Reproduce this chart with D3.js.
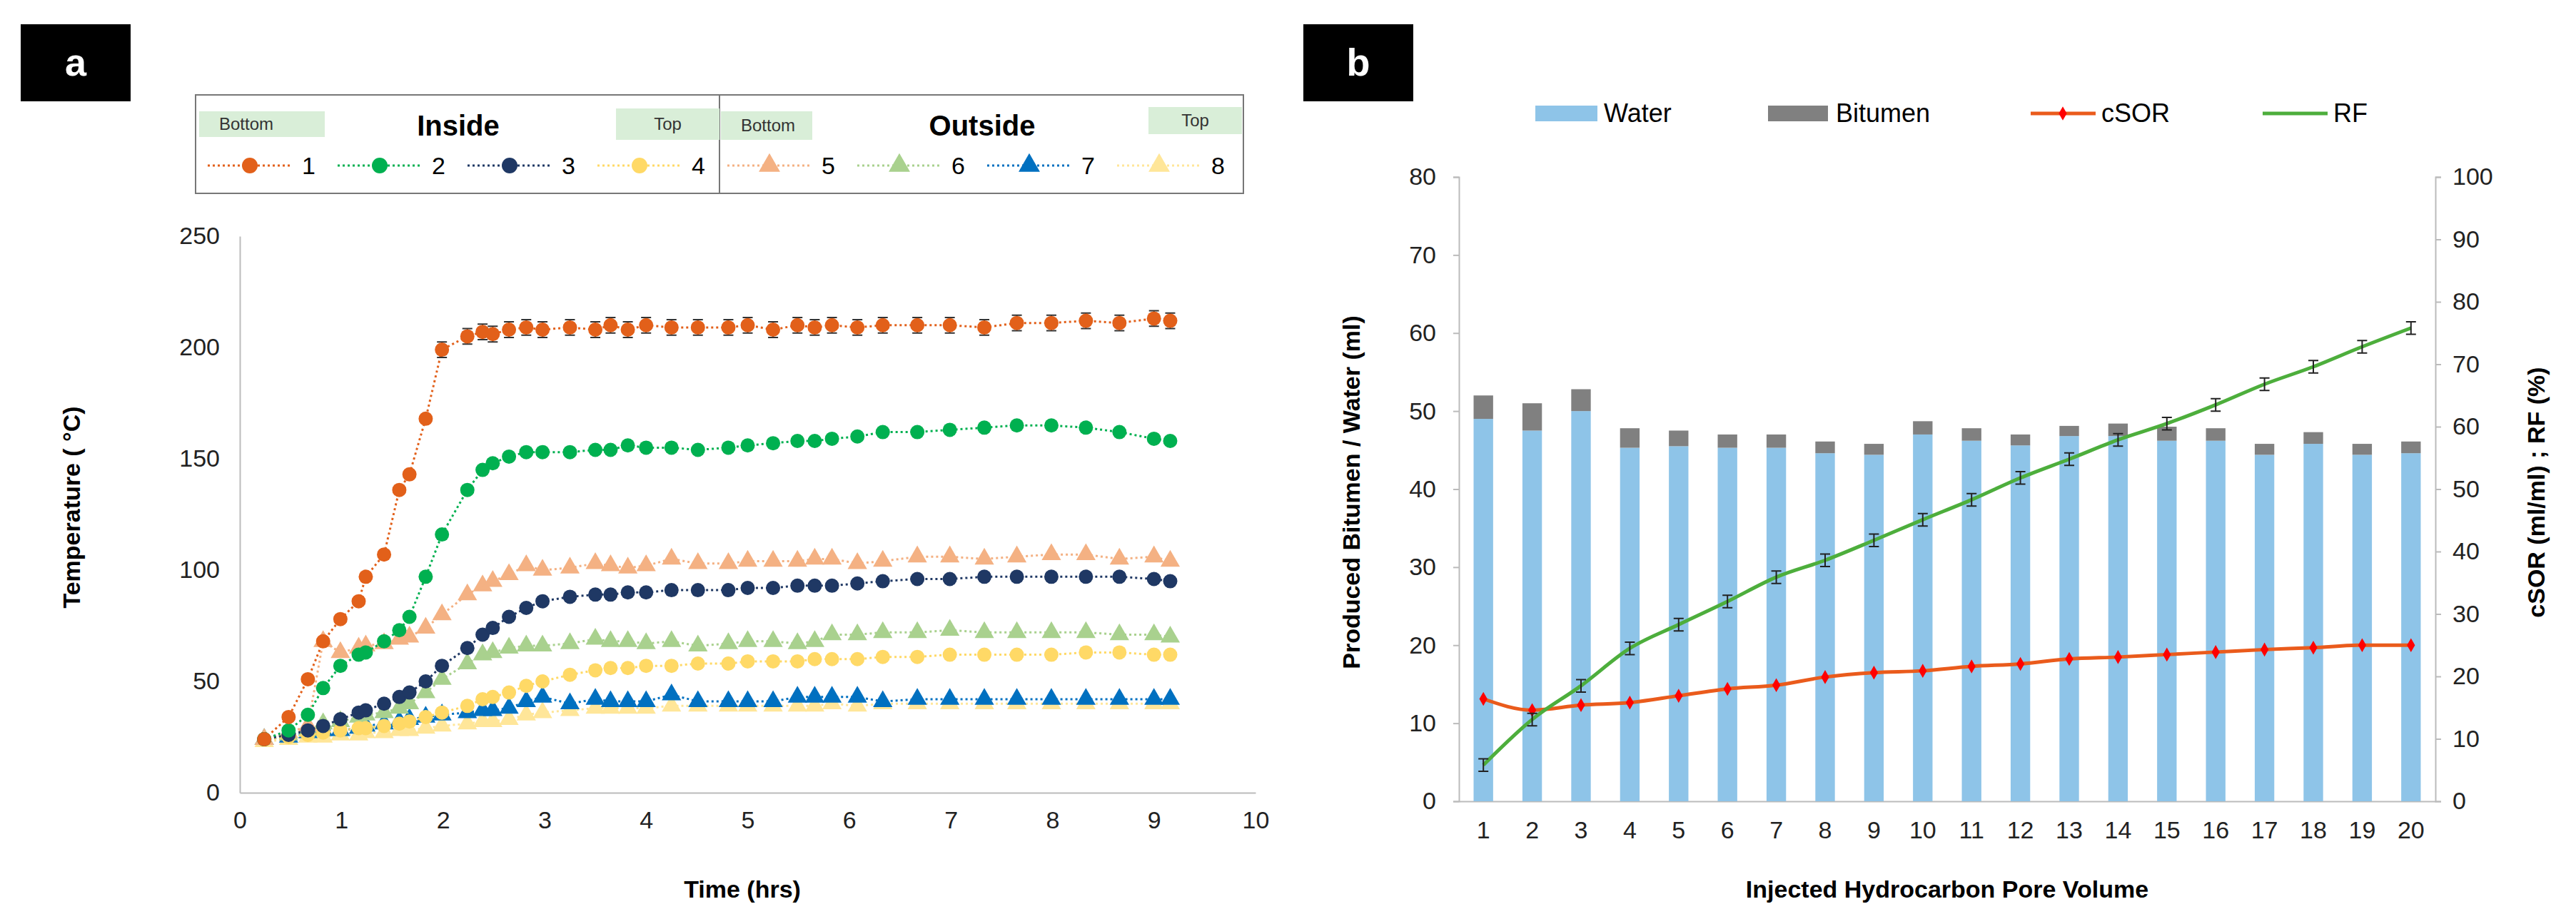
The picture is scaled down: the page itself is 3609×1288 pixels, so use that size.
<!DOCTYPE html>
<html><head><meta charset="utf-8">
<script src="https://cdn.jsdelivr.net/npm/d3@7"></script>
<style>body{margin:0;background:#fff}text{font-family:"Liberation Sans",Arial,sans-serif}</style>
</head><body><svg id="c" width="3609" height="1288"></svg>
<script>
// ---- panel a data ----
var times = [0.24,0.48,0.67,0.82,0.99,1.17,1.24,1.42,1.57,1.67,1.83,1.99,2.24,2.39,2.49,2.65,2.82,2.98,3.25,3.5,3.65,3.82,4.0,4.25,4.51,4.81,5.0,5.25,5.49,5.66,5.83,6.08,6.33,6.67,6.99,7.33,7.65,7.99,8.33,8.66,9.0,9.16];
var s1 = [24,34,51,68,78,86,97,107,136,143,168,199,205,207,206,208,209,208,209,208,210,208,210,209,209,209,210,208,210,209,210,209,210,210,210,209,211,211,212,211,213,212];
var s2 = [24,28,35,47,57,62,63,68,73,79,97,116,136,145,148,151,153,153,153,154,154,156,155,155,154,155,156,157,158,158,159,160,162,162,163,164,165,165,164,162,159,158];
var s3 = [24,26,28,30,33,36,37,40,43,45,50,57,65,71,74,79,83,86,88,89,89,90,90,91,91,91,92,92,93,93,93,94,95,96,96,97,97,97,97,97,96,95];
var s4 = [24,25,26,27,28,29,29,30,31,32,34,36,39,42,43,45,48,50,53,55,56,56,57,57,58,58,59,59,59,60,60,60,61,61,62,62,62,62,63,63,62,62];
var s5 = [24,27,30,68,63,65,66,67,69,70,74,80,89,93,95,98,102,100,101,103,102,101,102,105,103,103,104,104,104,105,105,103,104,106,106,105,106,107,107,105,106,104];
var s6 = [24,26,28,31,32,34,35,36,38,40,45,51,58,62,63,65,66,66,67,69,68,68,67,68,66,67,68,68,67,68,71,71,72,72,73,72,72,72,72,71,71,70];
var s7 = [24,25,27,28,28,29,30,31,32,33,34,35,36,37,37,38,41,43,40,42,41,41,41,44,41,41,41,41,43,43,43,43,41,42,42,42,42,42,42,42,42,42];
var s8 = [23,24,25,25,26,26,27,27,28,28,29,30,31,32,32,33,35,36,37,38,38,38,38,39,39,39,39,39,39,39,40,39,40,40,40,40,40,40,40,40,40,40];
var seriesNames = ['1','2','3','4','5','6','7','8'];
var seriesColors = ['#E2601A','#00B050','#1F3864','#FFD966','#F4B183','#A9D18E','#0070C0','#FFE699'];
var seriesShapes = ['circle','circle','circle','circle','tri','tri','tri','tri'];
var allSeries = [s1,s2,s3,s4,s5,s6,s7,s8];
var xTicksA = [0,1,2,3,4,5,6,7,8,9,10];
var yTicksA = [0,50,100,150,200,250];

// ---- panel b data ----
var pv = d3.range(1,21).map(String);
var water = [49,47.5,50,45.3,45.5,45.3,45.3,44.6,44.4,47,46.2,45.6,46.8,46.8,46.2,46.2,44.4,45.8,44.4,44.6];
var total = [52,51,52.8,47.8,47.5,47,47,46.1,45.8,48.7,47.8,47,48.1,48.4,48,47.8,45.8,47.3,45.8,46.1];
var csor = [16.4,14.6,15.4,15.8,16.9,18,18.6,19.9,20.6,20.9,21.6,22,22.8,23.1,23.5,23.9,24.3,24.6,25,25];
var rf = [5.8,13.1,18.5,24.5,28.3,32,35.9,38.6,41.8,45.1,48.3,51.8,54.8,57.9,60.5,63.5,66.8,69.6,72.8,75.8];
var yTicksL = [0,10,20,30,40,50,60,70,80];
var yTicksR = [0,10,20,30,40,50,60,70,80,90,100];

var svg = d3.select('#c');

function label(g, x, y, txt) {
  g.append('rect').attr('x', x).attr('y', y).attr('width', 154).attr('height', 108).attr('fill', '#000');
  g.append('text').attr('x', x + 77).attr('y', y + 72).attr('text-anchor', 'middle')
    .attr('fill', '#fff').attr('font-size', 54).attr('font-weight', 'bold').text(txt);
}

function marker(g, shape, x, y, r, color) {
  if (shape === 'circle') {
    g.append('circle').attr('cx', x).attr('cy', y).attr('r', r).attr('fill', color);
  } else {
    g.append('path').attr('transform', 'translate(' + x + ',' + y + ')')
      .attr('d', d3.symbol(d3.symbolTriangle, r * r * 3.2)()).attr('fill', color);
  }
}

// ================= panel a =================
var ga = svg.append('g');
label(ga, 29, 34, 'a');
var xA = d3.scaleLinear().domain([0, 10]).range([336, 1759]);
var yA = d3.scaleLinear().domain([0, 250]).range([1111, 331]);

ga.append('g').attr('transform', 'translate(0,1111)')
  .call(d3.axisBottom(xA).tickValues(xTicksA).tickSize(0).tickPadding(26))
  .call(function(g) { g.select('.domain').attr('stroke', '#bbb').attr('stroke-width', 2); g.selectAll('text').attr('font-size', 34).attr('fill', '#222'); });
ga.append('g').attr('transform', 'translate(336,0)')
  .call(d3.axisLeft(yA).tickValues(yTicksA).tickSize(0).tickPadding(28))
  .call(function(g) { g.select('.domain').attr('stroke', '#bbb').attr('stroke-width', 2); g.selectAll('text').attr('font-size', 34).attr('fill', '#222'); });

ga.append('text').attr('transform', 'translate(112,711) rotate(-90)').attr('text-anchor', 'middle')
  .attr('font-size', 34).attr('font-weight', 'bold').text('Temperature ( °C)');
ga.append('text').attr('x', 1040).attr('y', 1258).attr('text-anchor', 'middle')
  .attr('font-size', 34).attr('font-weight', 'bold').text('Time (hrs)');

var lineA = d3.line().x(function(d, i) { return xA(times[i]); }).y(function(d) { return yA(d); });
// draw back to front
[7,6,5,4,3,2,1,0].forEach(function(k) {
  var data = allSeries[k];
  ga.append('path').datum(data).attr('d', lineA).attr('fill', 'none')
    .attr('stroke', seriesColors[k]).attr('stroke-width', 3).attr('stroke-dasharray', '3,4');
  data.forEach(function(v, i) {
    if (k === 0 && i > 10) {
      ga.append('path').attr('d', 'M' + (xA(times[i]) - 7) + ',' + yA(v + 3.5) + 'h14M' + xA(times[i]) + ',' + yA(v + 3.5) + 'V' + yA(v - 3.5) + 'M' + (xA(times[i]) - 7) + ',' + yA(v - 3.5) + 'h14')
        .attr('stroke', '#333').attr('stroke-width', 2).attr('fill', 'none');
    }
    marker(ga, seriesShapes[k], xA(times[i]), yA(v), 10, seriesColors[k]);
  });
});

// legend a
var lg = ga.append('g');
lg.append('rect').attr('x', 274).attr('y', 133).attr('width', 1468).attr('height', 138).attr('fill', '#fff').attr('stroke', '#777').attr('stroke-width', 2);
lg.append('line').attr('x1', 1008).attr('x2', 1008).attr('y1', 133).attr('y2', 271).attr('stroke', '#777').attr('stroke-width', 2);
[[279,156,176,36,'Bottom'],[863,152,145,44,'Top'],[1010,156,128,40,'Bottom'],[1609,150,131,38,'Top']].forEach(function(b) {
  lg.append('rect').attr('x', b[0]).attr('y', b[1]).attr('width', b[2]).attr('height', b[3]).attr('fill', '#D9EED8');
  lg.append('text').attr('x', b[4] === 'Top' ? b[0] + b[2] / 2 : b[0] + 28).attr('y', b[1] + b[3] / 2 + 8)
    .attr('text-anchor', b[4] === 'Top' ? 'middle' : 'start').attr('font-size', 24).attr('fill', '#333').text(b[4]);
});
lg.append('text').attr('x', 642).attr('y', 190).attr('text-anchor', 'middle').attr('font-size', 40).attr('font-weight', 'bold').text('Inside');
lg.append('text').attr('x', 1376).attr('y', 190).attr('text-anchor', 'middle').attr('font-size', 40).attr('font-weight', 'bold').text('Outside');
seriesNames.forEach(function(n, k) {
  var x0 = (k < 4 ? 291 : 1019) + (k % 4) * 182;
  lg.append('line').attr('x1', x0).attr('x2', x0 + 118).attr('y1', 232).attr('y2', 232)
    .attr('stroke', seriesColors[k]).attr('stroke-width', 3).attr('stroke-dasharray', '3,4');
  marker(lg, seriesShapes[k], x0 + 59, 232, 11, seriesColors[k]);
  lg.append('text').attr('x', x0 + 132).attr('y', 244).attr('font-size', 34).text(n);
});

// ================= panel b =================
var gb = svg.append('g');
label(gb, 1826, 34, 'b');
var xB = d3.scaleBand().domain(pv).range([2044, 3412]).paddingInner(0.6).paddingOuter(0.3);
var yL = d3.scaleLinear().domain([0, 80]).range([1123, 248]);
var yR = d3.scaleLinear().domain([0, 100]).range([1123, 248]);

gb.append('g').attr('transform', 'translate(0,1123)')
  .call(d3.axisBottom(xB).tickSize(0).tickPadding(28))
  .call(function(g) { g.select('.domain').attr('stroke', '#bbb').attr('stroke-width', 2); g.selectAll('text').attr('font-size', 34).attr('fill', '#222'); });
gb.append('g').attr('transform', 'translate(2044,0)')
  .call(d3.axisLeft(yL).tickValues(yTicksL).tickSize(8).tickPadding(24))
  .call(function(g) { g.selectAll('.domain,line').attr('stroke', '#bbb').attr('stroke-width', 2); g.selectAll('text').attr('font-size', 34).attr('fill', '#222'); });
gb.append('g').attr('transform', 'translate(3412,0)')
  .call(d3.axisRight(yR).tickValues(yTicksR).tickSize(8).tickPadding(16))
  .call(function(g) { g.selectAll('.domain,line').attr('stroke', '#bbb').attr('stroke-width', 2); g.selectAll('text').attr('font-size', 34).attr('fill', '#222'); });

gb.append('text').attr('transform', 'translate(1905,690) rotate(-90)').attr('text-anchor', 'middle')
  .attr('font-size', 34).attr('font-weight', 'bold').text('Produced Bitumen / Water  (ml)');
gb.append('text').attr('transform', 'translate(3565,690) rotate(-90)').attr('text-anchor', 'middle')
  .attr('font-size', 34).attr('font-weight', 'bold').text('cSOR  (ml/ml) ;  RF  (%)');
gb.append('text').attr('x', 2728).attr('y', 1258).attr('text-anchor', 'middle')
  .attr('font-size', 34).attr('font-weight', 'bold').text('Injected  Hydrocarbon  Pore Volume');

gb.selectAll('.w').data(water).enter().append('rect')
  .attr('x', function(d, i) { return xB(pv[i]); }).attr('width', xB.bandwidth())
  .attr('y', function(d) { return yL(d); }).attr('height', function(d) { return yL(0) - yL(d); })
  .attr('fill', '#8EC4E8');
gb.selectAll('.bt').data(total).enter().append('rect')
  .attr('x', function(d, i) { return xB(pv[i]); }).attr('width', xB.bandwidth())
  .attr('y', function(d) { return yL(d); }).attr('height', function(d, i) { return yL(water[i]) - yL(d); })
  .attr('fill', '#808080');

var cx = function(i) { return xB(pv[i]) + xB.bandwidth() / 2; };
var lineB = d3.line().curve(d3.curveMonotoneX).x(function(d, i) { return cx(i); }).y(function(d) { return yR(d); });
gb.append('path').datum(csor).attr('d', lineB).attr('fill', 'none').attr('stroke', '#EA5B1C').attr('stroke-width', 5);
csor.forEach(function(v, i) {
  gb.append('path').attr('transform', 'translate(' + cx(i) + ',' + yR(v) + ')')
    .attr('d', d3.symbol(d3.symbolDiamond, 110)()).attr('fill', '#FF0000');
});
gb.append('path').datum(rf).attr('d', lineB).attr('fill', 'none').attr('stroke', '#4DAE3C').attr('stroke-width', 5);
rf.forEach(function(v, i) {
  var x = cx(i);
  gb.append('path').attr('d', 'M' + (x - 7) + ',' + yR(v + 1) + 'h14M' + x + ',' + yR(v + 1) + 'V' + yR(v - 1) + 'M' + (x - 7) + ',' + yR(v - 1) + 'h14')
    .attr('stroke', '#222').attr('stroke-width', 2).attr('fill', 'none');
});

// legend b
var lb = gb.append('g');
lb.append('rect').attr('x', 2151).attr('y', 148).attr('width', 87).attr('height', 22).attr('fill', '#8EC4E8');
lb.append('text').attr('x', 2247).attr('y', 171).attr('font-size', 36).text('Water');
lb.append('rect').attr('x', 2477).attr('y', 148).attr('width', 84).attr('height', 22).attr('fill', '#808080');
lb.append('text').attr('x', 2572).attr('y', 171).attr('font-size', 36).text('Bitumen');
lb.append('line').attr('x1', 2845).attr('x2', 2936).attr('y1', 159).attr('y2', 159).attr('stroke', '#EA5B1C').attr('stroke-width', 5);
lb.append('path').attr('transform', 'translate(2890,159)').attr('d', d3.symbol(d3.symbolDiamond, 110)()).attr('fill', '#FF0000');
lb.append('text').attr('x', 2944).attr('y', 171).attr('font-size', 36).text('cSOR');
lb.append('line').attr('x1', 3170).attr('x2', 3261).attr('y1', 159).attr('y2', 159).attr('stroke', '#4DAE3C').attr('stroke-width', 5);
lb.append('text').attr('x', 3269).attr('y', 171).attr('font-size', 36).text('RF');
</script></body></html>
